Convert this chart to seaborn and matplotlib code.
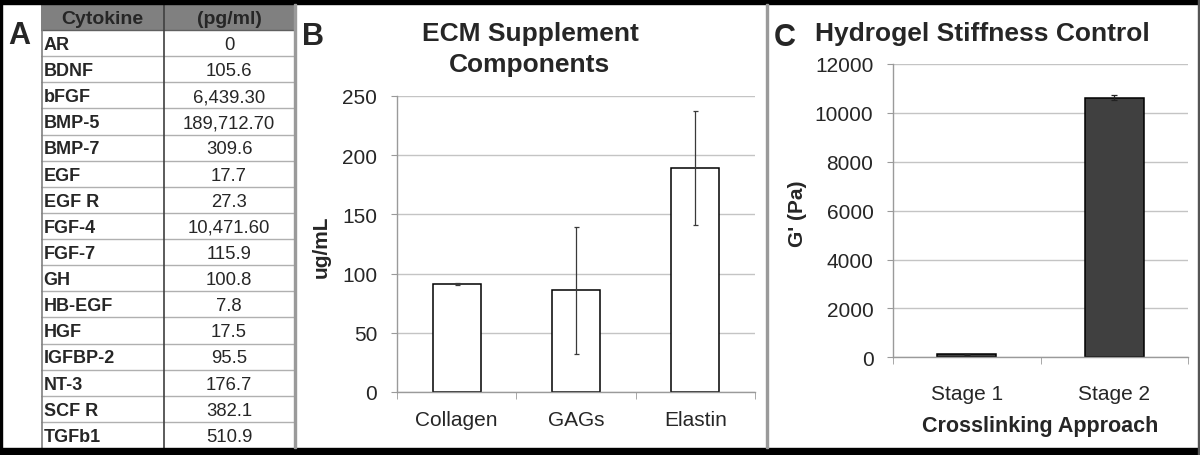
# Three-panel figure: cytokine table, ECM components, hydrogel stiffness
import matplotlib
matplotlib.use("Agg")
import matplotlib.pyplot as plt
from matplotlib.patches import Rectangle
import seaborn as sns
import numpy as np

# Data
cytokines = ["AR", "BDNF", "bFGF", "BMP-5", "BMP-7", "EGF", "EGF R", "FGF-4",
             "FGF-7", "GH", "HB-EGF", "HGF", "IGFBP-2", "NT-3", "SCF R", "TGFb1"]
concentrations = ["0", "105.6", "6,439.30", "189,712.70", "309.6", "17.7", "27.3",
                  "10,471.60", "115.9", "100.8", "7.8", "17.5", "95.5", "176.7",
                  "382.1", "510.9"]
table_header = ["Cytokine", "(pg/ml)"]

ecm_components = ["Collagen", "GAGs", "Elastin"]
ecm_values = [91.2, 86.0, 189.2]
ecm_err = [0.5, 53.5, 48.5]

stages = ["Stage 1", "Stage 2"]
stiffness = [120, 10620]
stiffness_err = [20, 110]

# Style
sns.set_style("white")
plt.rcParams['font.family'] = ['Liberation Sans', 'DejaVu Sans']

W, H = 1200, 456
fig = plt.figure(figsize=(12, 4.56), dpi=100)

def fx(x):
  return x / W

def fy(y):
  return 1 - y / H

# Frame: black bands top/bottom, thin edges, gray dividers
fig.add_artist(Rectangle((0, fy(5)), 1, 5 / H, transform=fig.transFigure, color="black", zorder=10))
fig.add_artist(Rectangle((0, 0), 1, 7 / H, transform=fig.transFigure, color="black", zorder=10))
fig.add_artist(Rectangle((0, 0), 2 / W, 1, transform=fig.transFigure, color="black", zorder=10))
fig.add_artist(Rectangle((fx(1198), 0), 2 / W, 1, transform=fig.transFigure, color="#555555", zorder=10))
for xd in [293.5, 765.5]:
  fig.add_artist(Rectangle((fx(xd), fy(449)), 2 / W, 444 / H, transform=fig.transFigure,
                           color="#9a9a9a", zorder=10))

# Panel letters
for letter, x, y in [("A", 8, 44), ("B", 302, 45), ("C", 774, 46)]:
  fig.text(fx(x), fy(y), letter, fontsize=22, fontweight="bold", va="baseline", ha="left")

# ---- Panel A: table ----
ax_t = fig.add_axes([fx(41), fy(449), (294 - 41) / W, 444 / H])
nrows = len(cytokines) + 1
ax_t.set_xlim(0, 1)
ax_t.set_ylim(nrows, 0)
ax_t.axis("off")
div = (164 - 41) / (294 - 41)
ax_t.axhspan(0, 1, color="#808080", lw=0)
for i in range(2, nrows):
  ax_t.axhline(i, color="#b0b0b0", lw=1)
ax_t.axhline(1, color="#606060", lw=1)
ax_t.axvline(div, color="#404040", lw=1.2)
ax_t.axvline(0.003, color="#808080", lw=1.2)
ax_t.text(div / 2, 0.55, table_header[0], ha="center", va="center", fontsize=14, fontweight="bold")
ax_t.text((1 + div) / 2, 0.55, table_header[1], ha="center", va="center", fontsize=14, fontweight="bold")
for i, (name, val) in enumerate(zip(cytokines, concentrations)):
  ax_t.text(0.01, i + 1.55, name, ha="left", va="center", fontsize=13, fontweight="bold")
  ax_t.text((1 + div) / 2, i + 1.55, val, ha="center", va="center", fontsize=13.3)

def style_axes(ax, n):
  ax.set_xlim(-0.5, n - 0.5)
  ax.yaxis.grid(True, color="#c4c4c4", lw=1)
  ax.set_axisbelow(True)
  for s in ["top", "right"]:
    ax.spines[s].set_visible(False)
  for s in ["left", "bottom"]:
    ax.spines[s].set_color("#9a9a9a")
    ax.spines[s].set_linewidth(1)
  ax.set_xticks(np.arange(-0.5, n, 1.0), minor=True)
  ax.tick_params(axis="x", which="minor", length=5, color="#9a9a9a", direction="out", bottom=True)
  ax.tick_params(axis="y", length=4.3, color="#9a9a9a", direction="out", left=True,
                 labelsize=15, pad=10)
  ax.set_xlabel("")

# ---- Panel B: ECM supplement components ----
ax_b = fig.add_axes([fx(397), fy(393), (755 - 397) / W, (393 - 97) / H])
sns.barplot(x=ecm_components, y=ecm_values, color="white", edgecolor="black",
            linewidth=1.1, width=0.4, errorbar=None, ax=ax_b)
ax_b.errorbar(np.arange(len(ecm_components)), ecm_values, yerr=ecm_err, fmt="none",
              ecolor="#3a3a3a", elinewidth=0.9, capsize=1.8, capthick=0.9)
ax_b.set_ylim(0, 250)
ax_b.set_yticks(np.arange(0, 251, 50))
style_axes(ax_b, len(ecm_components))
ax_b.tick_params(axis="x", which="major", length=0, labelsize=15, pad=13)
ax_b.set_ylabel("ug/mL", fontsize=15, fontweight="bold")
ax_b.yaxis.set_label_coords((331 - 397) / (755 - 397), 0.493)
fig.text(fx(530), fy(40.7), "ECM Supplement", ha="center", va="baseline", fontsize=19, fontweight="bold")
fig.text(fx(530), fy(71.7), "Components", ha="center", va="baseline", fontsize=19, fontweight="bold")

# ---- Panel C: hydrogel stiffness ----
ax_c = fig.add_axes([fx(893.3), fy(358.3), (1187.7 - 893.3) / W, (358.3 - 65) / H])
sns.barplot(x=stages, y=stiffness, color="#404040", edgecolor="black",
            linewidth=1.1, width=0.4, errorbar=None, ax=ax_c, saturation=1)
ax_c.errorbar(np.arange(len(stages)), stiffness, yerr=stiffness_err, fmt="none",
              ecolor="#222222", elinewidth=0.9, capsize=2.2, capthick=0.9)
ax_c.set_ylim(0, 12000)
ax_c.set_yticks(np.arange(0, 12001, 2000))
style_axes(ax_c, len(stages))
ax_c.tick_params(axis="x", which="major", length=0, labelsize=15, pad=19)
ax_c.set_ylabel("G' (Pa)", fontsize=15, fontweight="bold")
ax_c.yaxis.set_label_coords((807 - 893.3) / (1187.7 - 893.3), 0.494)
ax_c.set_xlabel("Crosslinking Approach", fontsize=15.5, fontweight="bold")
ax_c.xaxis.set_label_coords(0.498, (358.3 - 416) / (358.3 - 65))
fig.text(fx(815), fy(40.7), "Hydrogel Stiffness Control", ha="left", va="baseline",
         fontsize=19, fontweight="bold")

fig.savefig("out.png", dpi=100)
plt.close()
